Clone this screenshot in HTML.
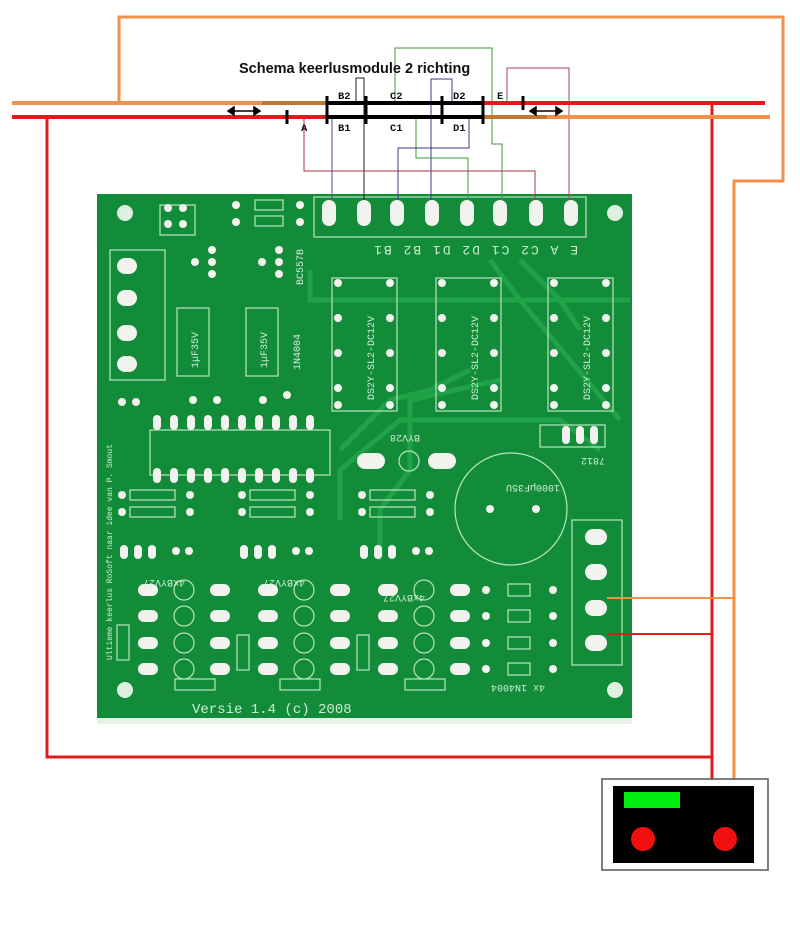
<!DOCTYPE html>
<html><head><meta charset="utf-8"><style>
html,body{margin:0;padding:0;background:#fff;width:800px;height:928px;overflow:hidden}
svg{display:block}
text{font-family:"Liberation Mono",monospace}
</style></head><body>
<svg width="800" height="928" viewBox="0 0 800 928" xmlns="http://www.w3.org/2000/svg">
<rect x="97" y="194" width="535" height="530" fill="#128c38"/>
<rect x="97" y="718" width="535" height="6" fill="#e8f0e8"/>
<g fill="none" stroke="#20a248" stroke-width="5">
<path d="M310 270 L310 300 L630 300"/>
<path d="M340 450 L390 400 L430 390 L470 370"/>
<path d="M380 560 L380 510 L410 470 L410 400 L500 380"/>
<path d="M340 520 L340 470 L400 420 L560 420 L600 450"/>
<path d="M520 260 L560 300 L580 330"/>
<path d="M490 260 L520 300 L620 420"/>
</g>
<g fill="#e0f0e0">
<circle cx="125" cy="213" r="8"/><circle cx="615" cy="213" r="8"/>
<circle cx="125" cy="690" r="8"/><circle cx="615" cy="690" r="8"/>
</g>
<g fill="none" stroke="#b8e6c0" stroke-width="1.2">
<rect x="314" y="197" width="272" height="40"/>
<rect x="332" y="278" width="65" height="133"/>
<rect x="436" y="278" width="65" height="133"/>
<rect x="548" y="278" width="65" height="133"/>
<rect x="110" y="250" width="55" height="130"/>
<rect x="177" y="308" width="32" height="68"/><rect x="246" y="308" width="32" height="68"/>
<rect x="160" y="205" width="35" height="30"/>
<rect x="150" y="430" width="180" height="45"/>
<rect x="540" y="425" width="65" height="22"/>
<rect x="572" y="520" width="50" height="145"/>
<circle cx="511" cy="509" r="56"/>
<rect x="255" y="200" width="28" height="10"/><rect x="255" y="216" width="28" height="10"/>
<rect x="130" y="490" width="45" height="10"/><rect x="130" y="507" width="45" height="10"/>
<rect x="250" y="490" width="45" height="10"/><rect x="250" y="507" width="45" height="10"/>
<rect x="370" y="490" width="45" height="10"/><rect x="370" y="507" width="45" height="10"/>
<rect x="175" y="679" width="40" height="11"/><rect x="280" y="679" width="40" height="11"/>
<rect x="405" y="679" width="40" height="11"/>
<rect x="117" y="625" width="12" height="35"/><rect x="237" y="635" width="12" height="35"/><rect x="357" y="635" width="12" height="35"/>
<circle cx="184" cy="590" r="10"/><circle cx="184" cy="616" r="10"/><circle cx="184" cy="643" r="10"/><circle cx="184" cy="669" r="10"/>
<circle cx="304" cy="590" r="10"/><circle cx="304" cy="616" r="10"/><circle cx="304" cy="643" r="10"/><circle cx="304" cy="669" r="10"/>
<circle cx="424" cy="590" r="10"/><circle cx="424" cy="616" r="10"/><circle cx="424" cy="643" r="10"/><circle cx="424" cy="669" r="10"/>
<rect x="508" y="584" width="22" height="12"/><rect x="508" y="610" width="22" height="12"/><rect x="508" y="637" width="22" height="12"/><rect x="508" y="663" width="22" height="12"/>
<circle cx="409" cy="461" r="10"/>
</g>
<g fill="#f2f2ee">
<rect x="322" y="200" width="14" height="26" rx="7"/><rect x="357" y="200" width="14" height="26" rx="7"/>
<rect x="390" y="200" width="14" height="26" rx="7"/><rect x="425" y="200" width="14" height="26" rx="7"/>
<rect x="460" y="200" width="14" height="26" rx="7"/><rect x="493" y="200" width="14" height="26" rx="7"/>
<rect x="529" y="200" width="14" height="26" rx="7"/><rect x="564" y="200" width="14" height="26" rx="7"/>
<rect x="117" y="258" width="20" height="16" rx="8"/><rect x="117" y="290" width="20" height="16" rx="8"/>
<rect x="117" y="325" width="20" height="16" rx="8"/><rect x="117" y="356" width="20" height="16" rx="8"/>
<rect x="585" y="529" width="22" height="16" rx="8"/><rect x="585" y="564" width="22" height="16" rx="8"/>
<rect x="585" y="600" width="22" height="16" rx="8"/><rect x="585" y="635" width="22" height="16" rx="8"/>
<rect x="357" y="453" width="28" height="16" rx="8"/><rect x="428" y="453" width="28" height="16" rx="8"/>
<rect x="562" y="426" width="8" height="18" rx="4"/><rect x="576" y="426" width="8" height="18" rx="4"/><rect x="590" y="426" width="8" height="18" rx="4"/>
</g>
<g fill="#f2f2ee">
<rect x="153" y="415" width="8" height="15" rx="4"/><rect x="170" y="415" width="8" height="15" rx="4"/><rect x="187" y="415" width="8" height="15" rx="4"/><rect x="204" y="415" width="8" height="15" rx="4"/><rect x="221" y="415" width="8" height="15" rx="4"/><rect x="238" y="415" width="8" height="15" rx="4"/><rect x="255" y="415" width="8" height="15" rx="4"/><rect x="272" y="415" width="8" height="15" rx="4"/><rect x="289" y="415" width="8" height="15" rx="4"/><rect x="306" y="415" width="8" height="15" rx="4"/>
<rect x="153" y="468" width="8" height="15" rx="4"/><rect x="170" y="468" width="8" height="15" rx="4"/><rect x="187" y="468" width="8" height="15" rx="4"/><rect x="204" y="468" width="8" height="15" rx="4"/><rect x="221" y="468" width="8" height="15" rx="4"/><rect x="238" y="468" width="8" height="15" rx="4"/><rect x="255" y="468" width="8" height="15" rx="4"/><rect x="272" y="468" width="8" height="15" rx="4"/><rect x="289" y="468" width="8" height="15" rx="4"/><rect x="306" y="468" width="8" height="15" rx="4"/>
</g>
<g fill="#f2f2ee">
<rect x="138" y="584" width="20" height="12" rx="6"/><rect x="210" y="584" width="20" height="12" rx="6"/>
<rect x="138" y="610" width="20" height="12" rx="6"/><rect x="210" y="610" width="20" height="12" rx="6"/>
<rect x="138" y="637" width="20" height="12" rx="6"/><rect x="210" y="637" width="20" height="12" rx="6"/>
<rect x="138" y="663" width="20" height="12" rx="6"/><rect x="210" y="663" width="20" height="12" rx="6"/>
<rect x="258" y="584" width="20" height="12" rx="6"/><rect x="330" y="584" width="20" height="12" rx="6"/>
<rect x="258" y="610" width="20" height="12" rx="6"/><rect x="330" y="610" width="20" height="12" rx="6"/>
<rect x="258" y="637" width="20" height="12" rx="6"/><rect x="330" y="637" width="20" height="12" rx="6"/>
<rect x="258" y="663" width="20" height="12" rx="6"/><rect x="330" y="663" width="20" height="12" rx="6"/>
<rect x="378" y="584" width="20" height="12" rx="6"/><rect x="450" y="584" width="20" height="12" rx="6"/>
<rect x="378" y="610" width="20" height="12" rx="6"/><rect x="450" y="610" width="20" height="12" rx="6"/>
<rect x="378" y="637" width="20" height="12" rx="6"/><rect x="450" y="637" width="20" height="12" rx="6"/>
<rect x="378" y="663" width="20" height="12" rx="6"/><rect x="450" y="663" width="20" height="12" rx="6"/>
<circle cx="486" cy="590" r="4"/><circle cx="553" cy="590" r="4"/><circle cx="486" cy="616" r="4"/><circle cx="553" cy="616" r="4"/>
<circle cx="486" cy="643" r="4"/><circle cx="553" cy="643" r="4"/><circle cx="486" cy="669" r="4"/><circle cx="553" cy="669" r="4"/>
<circle cx="338" cy="283" r="4"/><circle cx="390" cy="283" r="4"/><circle cx="338" cy="318" r="4"/><circle cx="390" cy="318" r="4"/><circle cx="338" cy="353" r="4"/><circle cx="390" cy="353" r="4"/><circle cx="338" cy="388" r="4"/><circle cx="390" cy="388" r="4"/><circle cx="338" cy="405" r="4"/><circle cx="390" cy="405" r="4"/>
<circle cx="442" cy="283" r="4"/><circle cx="494" cy="283" r="4"/><circle cx="442" cy="318" r="4"/><circle cx="494" cy="318" r="4"/><circle cx="442" cy="353" r="4"/><circle cx="494" cy="353" r="4"/><circle cx="442" cy="388" r="4"/><circle cx="494" cy="388" r="4"/><circle cx="442" cy="405" r="4"/><circle cx="494" cy="405" r="4"/>
<circle cx="554" cy="283" r="4"/><circle cx="606" cy="283" r="4"/><circle cx="554" cy="318" r="4"/><circle cx="606" cy="318" r="4"/><circle cx="554" cy="353" r="4"/><circle cx="606" cy="353" r="4"/><circle cx="554" cy="388" r="4"/><circle cx="606" cy="388" r="4"/><circle cx="554" cy="405" r="4"/><circle cx="606" cy="405" r="4"/>
<circle cx="168" cy="208" r="4"/><circle cx="183" cy="208" r="4"/><circle cx="168" cy="224" r="4"/><circle cx="183" cy="224" r="4"/>
<circle cx="236" cy="205" r="4"/><circle cx="300" cy="205" r="4"/><circle cx="236" cy="222" r="4"/><circle cx="300" cy="222" r="4"/>
<circle cx="122" cy="402" r="4"/><circle cx="136" cy="402" r="4"/>
<circle cx="195" cy="262" r="4"/><circle cx="212" cy="262" r="4"/><circle cx="212" cy="250" r="4"/><circle cx="212" cy="274" r="4"/>
<circle cx="262" cy="262" r="4"/><circle cx="279" cy="262" r="4"/><circle cx="279" cy="250" r="4"/><circle cx="279" cy="274" r="4"/>
<circle cx="193" cy="400" r="4"/><circle cx="217" cy="400" r="4"/><circle cx="263" cy="400" r="4"/><circle cx="287" cy="395" r="4"/>
<circle cx="122" cy="495" r="4"/><circle cx="190" cy="495" r="4"/><circle cx="122" cy="512" r="4"/><circle cx="190" cy="512" r="4"/>
<circle cx="242" cy="495" r="4"/><circle cx="310" cy="495" r="4"/><circle cx="242" cy="512" r="4"/><circle cx="310" cy="512" r="4"/>
<circle cx="362" cy="495" r="4"/><circle cx="430" cy="495" r="4"/><circle cx="362" cy="512" r="4"/><circle cx="430" cy="512" r="4"/>
<circle cx="490" cy="509" r="4"/><circle cx="536" cy="509" r="4"/>
<rect x="120" y="545" width="8" height="14" rx="4"/><rect x="134" y="545" width="8" height="14" rx="4"/><rect x="148" y="545" width="8" height="14" rx="4"/>
<rect x="240" y="545" width="8" height="14" rx="4"/><rect x="254" y="545" width="8" height="14" rx="4"/><rect x="268" y="545" width="8" height="14" rx="4"/>
<rect x="360" y="545" width="8" height="14" rx="4"/><rect x="374" y="545" width="8" height="14" rx="4"/><rect x="388" y="545" width="8" height="14" rx="4"/>
<circle cx="176" cy="551" r="4"/><circle cx="189" cy="551" r="4"/><circle cx="296" cy="551" r="4"/><circle cx="309" cy="551" r="4"/><circle cx="416" cy="551" r="4"/><circle cx="429" cy="551" r="4"/>
</g>
<g font-size="10" fill="#cdeed4">
<text x="0" y="0" transform="translate(578,246) rotate(180)" font-size="13" letter-spacing="2">E  A  C2 C1 D2 D1 B2 B1</text>
<text x="192" y="713" font-size="14">Versie 1.4 (c) 2008</text>
<text transform="translate(112,660) rotate(-90)" font-size="8">Ultieme keerlus RoSoft naar idee van P. Smout</text>
<text transform="translate(590,400) rotate(-90)">DS2Y-SL2-DC12V</text>
<text transform="translate(478,400) rotate(-90)">DS2Y-SL2-DC12V</text>
<text transform="translate(374,400) rotate(-90)">DS2Y-SL2-DC12V</text>
<text transform="translate(198,368) rotate(-90)">1µF35V</text>
<text transform="translate(267,368) rotate(-90)">1µF35V</text>
<text transform="translate(300,370) rotate(-90)">1N4004</text>
<text transform="translate(303,285) rotate(-90)">BC557B</text>
<text transform="translate(560,485) rotate(180)">1000µF35U</text>
<text transform="translate(425,595) rotate(180)">4xBYV27</text>
<text transform="translate(305,580) rotate(180)">4xBYV27</text>
<text transform="translate(185,580) rotate(180)">4xBYV27</text>
<text transform="translate(545,685) rotate(180)">4x 1N4004</text>
<text transform="translate(420,435) rotate(180)">BYV28</text>
<text transform="translate(605,458) rotate(180)">7812</text>
</g>
<g fill="none" stroke-width="1">
<path d="M332 117 V200" stroke="#5a4a7a"/>
<path d="M356 103 V78 H364 V200" stroke="#222"/>
<path d="M395 103 V48 H492 V144 H502 V200" stroke="#3a9a3a"/>
<path d="M452 103 V79 H431 V200" stroke="#3a3a8a"/>
<path d="M416 117 V158 H468 V200" stroke="#3a9a3a"/>
<path d="M469 117 V148 H398 V200" stroke="#3a3a8a"/>
<path d="M304 117 V171 H535 V200" stroke="#b03040"/>
<path d="M507 103 V68 H569 V200" stroke="#b04050"/>
</g>
<g fill="none" stroke-width="3">
<path d="M119 103 V17 H783 V181 H734 V780" stroke="#f0904a"/>
<path d="M47 117 V757 H712 V780" stroke="#dd1c1c"/>
<path d="M712 103 V757" stroke="#dd1c1c"/>
<path d="M607 598 H734" stroke="#f0904a" stroke-width="2"/>
<path d="M607 634 H712" stroke="#dd1c1c" stroke-width="2"/>
</g>
<g stroke-width="4" fill="none">
<path d="M12 103 H262" stroke="#f0904a"/>
<path d="M262 103 H327" stroke="#c07830"/>
<path d="M327 103 H484" stroke="#000"/>
<path d="M484 103 H765" stroke="#dd1c1c"/>
<path d="M12 117 H327" stroke="#dd1c1c"/>
<path d="M327 117 H484" stroke="#000"/>
<path d="M484 117 H547" stroke="#c07830"/>
<path d="M547 117 H770" stroke="#f0904a"/>
</g>
<g stroke="#000" stroke-width="3">
<path d="M327 96 V110 M366 96 V110 M442 96 V110 M483 96 V110 M523 96 V110"/>
<path d="M287 110 V124 M327 110 V124 M366 110 V124 M442 110 V124 M483 110 V124"/>
</g>
<g stroke="#000" stroke-width="1.5" fill="#000">
<path d="M232 111 H256"/><path d="M228 111 l6 -4 v8z M260 111 l-6 -4 v8z"/>
<path d="M534 111 H558"/><path d="M530 111 l6 -4 v8z M562 111 l-6 -4 v8z"/>
</g>
<g font-weight="bold" fill="#111">
<text x="239" y="73" font-size="14.5" style="font-family:'Liberation Sans',sans-serif">Schema keerlusmodule 2 richting</text>
<g font-size="10.5" style="font-family:'Liberation Sans',sans-serif">
<text x="338" y="99">B2</text><text x="390" y="99">C2</text><text x="453" y="99">D2</text><text x="497" y="99">E</text>
<text x="301" y="131">A</text><text x="338" y="131">B1</text><text x="390" y="131">C1</text><text x="453" y="131">D1</text>
</g></g>
<rect x="602" y="779" width="166" height="91" fill="#fff" stroke="#555" stroke-width="1.5"/>
<rect x="613" y="786" width="141" height="77" fill="#000"/>
<rect x="624" y="792" width="56" height="16" fill="#00ee10"/>
<circle cx="643" cy="839" r="12" fill="#f01010"/>
<circle cx="725" cy="839" r="12" fill="#f01010"/>
</svg>
</body></html>
